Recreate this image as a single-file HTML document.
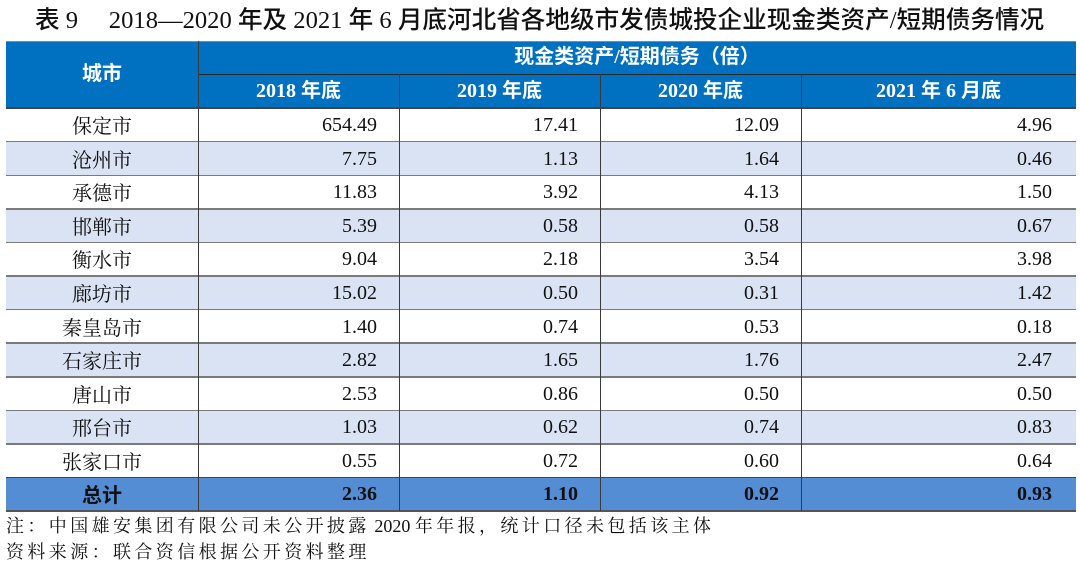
<!DOCTYPE html>
<html><head><meta charset="utf-8">
<style>
body{margin:0;width:1080px;height:567px;background:#fff;position:relative;overflow:hidden;}
.a{position:absolute;}
.s{font-family:"Liberation Serif","Noto Serif CJK SC",serif;}
.h{font-family:"Liberation Serif","Noto Sans CJK SC",sans-serif;font-weight:bold;}
.title{left:35px;top:3px;height:30px;line-height:30px;font-size:24.6px;color:#111;white-space:nowrap;}
.title .c{font-family:"Noto Sans CJK SC",sans-serif;font-weight:500;}
.title .n{font-family:"Liberation Serif",serif;font-weight:normal;}
.hdr{background:#0070C0;}
.ht{color:#fff;font-size:20px;text-align:center;white-space:nowrap;}
.row{left:6px;width:1070px;height:33.6px;}
.cell{position:absolute;top:0;height:33.6px;line-height:33.6px;font-size:20px;color:#111;white-space:nowrap;}
.city{left:0;width:192px;text-align:center;font-family:"Noto Serif CJK SC",serif;}
.num{text-align:right;font-family:"Liberation Serif",serif;top:1px;}
.c1{left:192px;width:179px;}
.c2{left:393px;width:179px;}
.c3{left:594px;width:179px;}
.c4{left:795px;width:251px;}
.alt{background:#DAE3F3;}
.tot{background:#548DD4;}
.tot .cell{font-weight:bold;}
.tot .city{font-family:"Noto Sans CJK SC",sans-serif;}
.hl{position:absolute;height:1.5px;background:#7a7a7a;}
.vl{position:absolute;width:1.5px;background:#3a3a3a;}
.note{left:6px;font-family:"Noto Serif CJK SC",serif;font-size:18px;letter-spacing:3.4px;color:#111;white-space:nowrap;height:26px;line-height:26px;}
.note .n{font-family:"Liberation Serif",serif;letter-spacing:0;}
</style></head><body>

<div class="a title"><span class="c">表</span><span class="n"> 9</span><span class="n">　 2018—2020 </span><span class="c">年及</span><span class="n"> 2021 </span><span class="c">年</span><span class="n"> 6 </span><span class="c">月底河北省各地级市发债城投企业现金类资产</span><span class="n">/</span><span class="c">短期债务情况</span></div>

<!-- header -->
<div class="a hdr" style="left:6px;top:41px;width:1070px;height:67px;"></div>
<div class="a ht h" style="left:6px;top:41px;width:192px;height:67px;line-height:67px;">城市</div>
<div class="a ht h" style="left:198px;top:41px;width:878px;height:33px;line-height:33px;">现金类资产/短期债务（倍）</div>
<div class="a ht h" style="left:198px;top:74px;width:201px;height:34px;line-height:34px;">2018 年底</div>
<div class="a ht h" style="left:399px;top:74px;width:201px;height:34px;line-height:34px;">2019 年底</div>
<div class="a ht h" style="left:600px;top:74px;width:201px;height:34px;line-height:34px;">2020 年底</div>
<div class="a ht h" style="left:801px;top:74px;width:275px;height:34px;line-height:34px;">2021 年 6 月底</div>

<!-- rows -->
<div class="a row" style="top:108px;"><div class="cell city">保定市</div><div class="cell num c1">654.49</div><div class="cell num c2">17.41</div><div class="cell num c3">12.09</div><div class="cell num c4">4.96</div></div>
<div class="a row alt" style="top:141.6px;"><div class="cell city">沧州市</div><div class="cell num c1">7.75</div><div class="cell num c2">1.13</div><div class="cell num c3">1.64</div><div class="cell num c4">0.46</div></div>
<div class="a row" style="top:175.2px;"><div class="cell city">承德市</div><div class="cell num c1">11.83</div><div class="cell num c2">3.92</div><div class="cell num c3">4.13</div><div class="cell num c4">1.50</div></div>
<div class="a row alt" style="top:208.8px;"><div class="cell city">邯郸市</div><div class="cell num c1">5.39</div><div class="cell num c2">0.58</div><div class="cell num c3">0.58</div><div class="cell num c4">0.67</div></div>
<div class="a row" style="top:242.3px;"><div class="cell city">衡水市</div><div class="cell num c1">9.04</div><div class="cell num c2">2.18</div><div class="cell num c3">3.54</div><div class="cell num c4">3.98</div></div>
<div class="a row alt" style="top:275.9px;"><div class="cell city">廊坊市</div><div class="cell num c1">15.02</div><div class="cell num c2">0.50</div><div class="cell num c3">0.31</div><div class="cell num c4">1.42</div></div>
<div class="a row" style="top:309.5px;"><div class="cell city">秦皇岛市</div><div class="cell num c1">1.40</div><div class="cell num c2">0.74</div><div class="cell num c3">0.53</div><div class="cell num c4">0.18</div></div>
<div class="a row alt" style="top:343.1px;"><div class="cell city">石家庄市</div><div class="cell num c1">2.82</div><div class="cell num c2">1.65</div><div class="cell num c3">1.76</div><div class="cell num c4">2.47</div></div>
<div class="a row" style="top:376.7px;"><div class="cell city">唐山市</div><div class="cell num c1">2.53</div><div class="cell num c2">0.86</div><div class="cell num c3">0.50</div><div class="cell num c4">0.50</div></div>
<div class="a row alt" style="top:410.3px;"><div class="cell city">邢台市</div><div class="cell num c1">1.03</div><div class="cell num c2">0.62</div><div class="cell num c3">0.74</div><div class="cell num c4">0.83</div></div>
<div class="a row" style="top:443.8px;"><div class="cell city">张家口市</div><div class="cell num c1">0.55</div><div class="cell num c2">0.72</div><div class="cell num c3">0.60</div><div class="cell num c4">0.64</div></div>
<div class="a row tot" style="top:477.4px;"><div class="cell city" style="font-weight:bold;">总计</div><div class="cell num c1">2.36</div><div class="cell num c2">1.10</div><div class="cell num c3">0.92</div><div class="cell num c4">0.93</div></div>

<!-- horizontal lines -->
<div class="hl" style="left:6px;width:1070px;top:40.5px;background:#8a8a8a;"></div>
<div class="hl" style="left:198px;width:878px;top:73.5px;background:#2a2a2a;"></div>
<div class="hl" style="left:6px;width:1070px;top:107.3px;background:#444;"></div>
<div class="hl" style="left:6px;width:1070px;top:140.9px;"></div>
<div class="hl" style="left:6px;width:1070px;top:174.5px;"></div>
<div class="hl" style="left:6px;width:1070px;top:208.1px;"></div>
<div class="hl" style="left:6px;width:1070px;top:241.6px;"></div>
<div class="hl" style="left:6px;width:1070px;top:275.2px;"></div>
<div class="hl" style="left:6px;width:1070px;top:308.8px;"></div>
<div class="hl" style="left:6px;width:1070px;top:342.4px;"></div>
<div class="hl" style="left:6px;width:1070px;top:376px;"></div>
<div class="hl" style="left:6px;width:1070px;top:409.6px;"></div>
<div class="hl" style="left:6px;width:1070px;top:443.1px;"></div>
<div class="hl" style="left:6px;width:1070px;top:476.7px;background:#444;"></div>
<div class="hl" style="left:6px;width:1070px;top:510.3px;background:#555;"></div>

<!-- vertical lines -->
<div class="vl" style="left:197.5px;top:41px;height:470px;"></div>
<div class="vl" style="left:398.5px;top:74px;height:437px;"></div>
<div class="vl" style="left:599.5px;top:74px;height:437px;"></div>
<div class="vl" style="left:800.5px;top:74px;height:437px;"></div>

<!-- notes -->
<div class="a note" style="top:512px;">注：中国雄安集团有限公司未公开披露<span class="n"> 2020 </span>年年报，统计口径未包括该主体</div>
<div class="a note" style="top:538px;">资料来源：联合资信根据公开资料整理</div>

</body></html>
